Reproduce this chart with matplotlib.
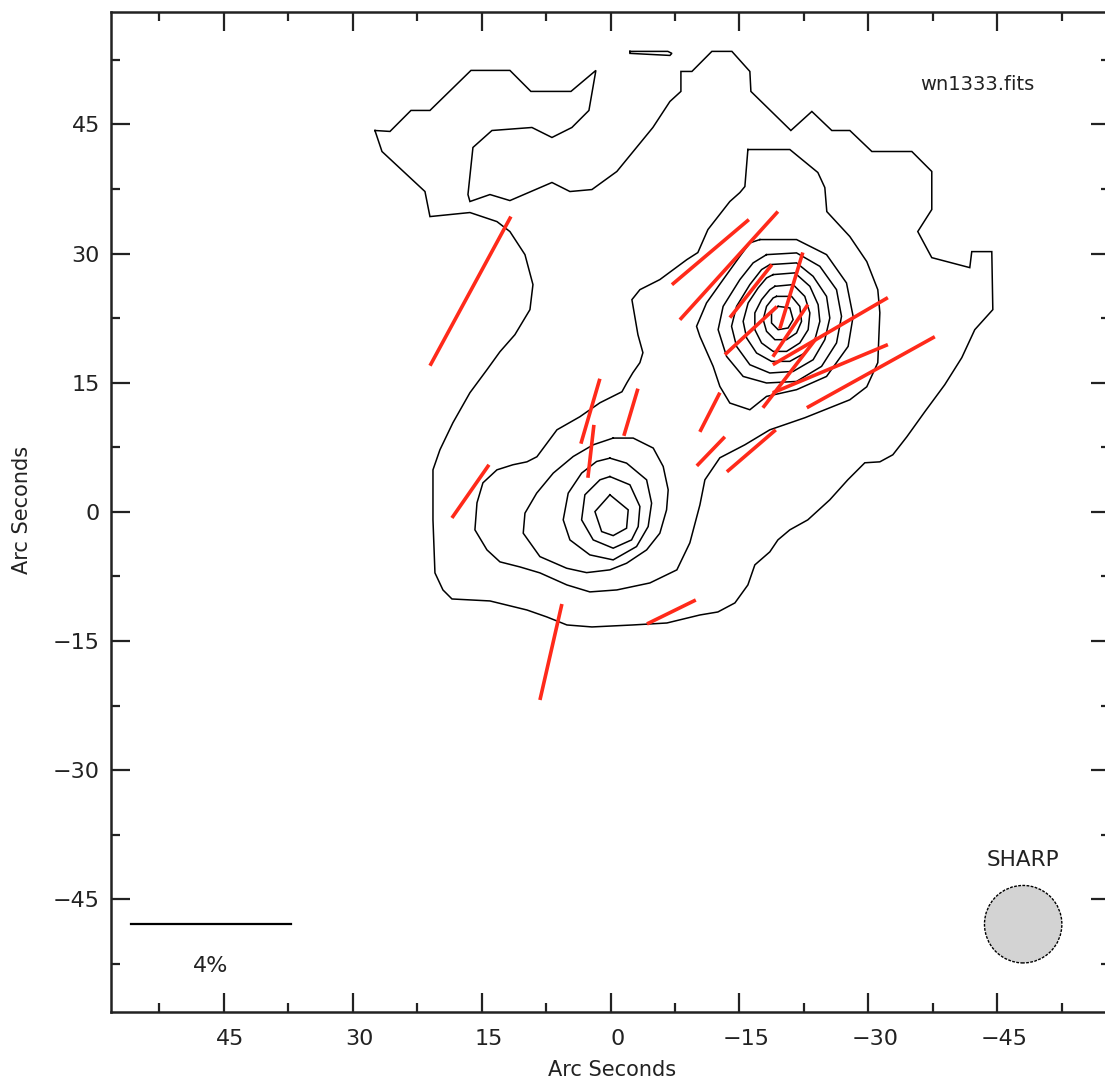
import numpy as np
import matplotlib
matplotlib.use("Agg")
import matplotlib.pyplot as plt
from matplotlib.transforms import ScaledTranslation
from matplotlib.patches import Circle

# ---------------- data (arcsec offsets; x = east offset, y = north offset) ----------
contour_outer = [(27.40,44.30),(25.65,44.19),(23.21,46.63),(21.00,46.63),(16.23,51.28),(11.70,51.28),
    (9.26,48.84),(4.60,48.84),(1.70,51.28),(2.51,46.63),(4.49,44.65),(6.81,43.49),(9.14,44.65),
    (13.79,44.30),(16.00,42.33),(16.58,36.86),(16.35,36.05),(14.02,36.86),(11.70,36.16),(6.81,38.26),
    (4.72,37.21),(2.16,37.44),(-0.74,39.54),(-4.93,44.65),(-6.91,47.67),(-8.19,48.84),(-8.19,51.16),
    (-9.47,51.16),(-11.79,53.49),(-14.12,53.49),(-16.21,51.16),(-16.33,48.84),(-20.98,44.30),
    (-23.42,46.51),(-25.74,44.30),(-27.84,44.30),(-30.40,41.86),(-35.05,41.86),(-37.37,39.54),
    (-37.37,35.12),(-35.74,32.56),(-37.37,29.53),(-41.79,28.37),(-42.02,30.23),(-44.35,30.23),
    (-44.47,23.49),(-42.37,21.16),(-40.86,17.91),(-38.88,14.77),(-36.56,11.63),(-34.47,8.72),
    (-32.84,6.63),(-31.33,5.81),(-29.58,5.70),(-27.60,3.72),(-25.51,1.40),(-22.95,-0.93),
    (-20.86,-2.09),(-19.47,-3.26),(-18.53,-4.65),(-16.79,-6.16),(-15.98,-8.49),(-14.47,-10.58),
    (-12.49,-11.63),(-10.40,-11.98),(-6.56,-12.91),(-2.60,-13.14),(2.16,-13.37),(5.07,-13.14),
    (7.40,-12.21),(9.72,-11.40),(14.02,-10.35),(18.44,-10.12),(19.49,-9.07),(20.42,-7.09),
    (20.65,-0.93),(20.65,4.88),(19.84,7.21),(18.33,10.35),(16.35,13.84),(14.37,16.51),(12.86,18.60),
    (11.12,20.58),(9.37,23.49),(9.02,26.40),(9.95,29.88),(11.70,32.56),(13.21,33.72),(16.35,34.77),
    (21.00,34.30),(21.58,37.21),(26.58,41.86)]

contour_sliver = [(-2.26,53.49),(-6.67,53.49),(-7.14,53.26),(-6.91,53.02),(-4.58,53.14),(-2.26,53.26)]

contour_level2 = [(-15.98,42.09),(-20.86,42.09),(-24.12,39.42),(-24.93,37.67),(-25.16,34.88),
    (-27.84,31.98),(-29.81,29.07),(-31.09,25.81),(-31.33,23.14),(-31.09,17.33),(-29.81,14.53),
    (-27.84,13.02),(-22.60,10.93),(-18.53,9.53),(-15.63,7.79),(-12.72,6.28),(-10.98,3.72),
    (-10.40,0.81),(-9.23,-3.60),(-7.72,-6.74),(-4.58,-8.26),(-0.74,-9.07),(2.40,-9.30),(5.07,-8.49),
    (8.21,-7.09),(10.53,-6.40),(12.86,-5.81),(14.37,-4.42),(15.77,-2.09),(15.53,1.05),(14.84,3.37),
    (13.21,4.88),(11.35,5.47),(9.72,5.81),(8.56,6.40),(6.23,9.53),(3.56,11.05),(1.23,12.67),
    (-1.33,13.95),(-1.91,15.00),(-2.60,16.16),(-3.42,17.33),(-3.77,18.49),(-3.19,20.58),
    (-2.49,24.65),(-3.42,25.81),(-5.74,26.98),(-8.88,29.30),(-10.16,30.12),(-11.33,32.79),
    (-13.88,36.05),(-15.05,37.09),(-15.63,37.79)]

south_l3 = [(-0.31,8.57),(-2.64,8.57),(-4.97,7.41),(-6.13,5.27),(-6.71,2.56),(-6.52,0.23),(-5.74,-2.48),
    (-4.20,-4.42),(-1.87,-5.97),(0.07,-6.74),(2.78,-7.06),(5.10,-6.55),(8.21,-5.20),(10.15,-2.48),
    (9.95,-0.15),(8.59,2.17),(6.66,4.50),(4.34,6.43),(2.01,7.79)]
south_l4 = [(0.07,6.24),(-1.87,5.66),(-4.20,3.72),(-4.78,1.01),(-4.38,-1.71),(-3.03,-4.03),(-0.31,-5.58),
    (2.40,-5.00),(4.72,-3.26),(5.50,-0.93),(4.92,2.17),(3.36,4.50),(1.62,5.85)]
south_l5 = [(0.07,4.10),(-2.26,3.14),(-3.42,0.62),(-3.22,-1.71),(-2.45,-3.26),(-0.31,-4.22),(2.01,-3.26),
    (3.36,-0.93),(2.98,1.98),(1.23,3.72)]
south_l6 = [(0.07,1.98),(-2.06,0.23),(-1.87,-1.90),(-0.31,-2.76),(1.03,-2.29),(1.81,0.03)]

north_l3 = [(-17.37,31.63),(-21.64,31.63),(-25.13,29.88),(-27.45,26.59),(-28.22,22.71),(-27.64,19.22),
    (-25.13,15.73),(-21.64,14.19),(-18.15,13.41),(-16.21,11.86),(-13.88,12.64),(-12.72,14.57),
    (-11.94,16.90),(-10.40,20.38),(-10.01,21.55),(-11.17,24.27),(-13.10,26.98),(-15.05,29.69),
    (-16.21,31.24)]
north_l4 = [(-18.15,29.88),(-21.64,30.08),(-24.35,28.52),(-26.29,25.81),(-26.87,22.71),(-26.29,19.62),
    (-24.55,16.90),(-21.64,15.15),(-18.15,14.97),(-15.43,15.73),(-13.50,18.06),(-12.52,21.16),
    (-13.10,23.87),(-15.05,26.98),(-16.59,28.92)]
north_l5 = [(-18.53,28.72),(-21.64,28.92),(-23.57,27.36),(-25.13,25.03),(-25.51,22.52),(-24.93,20.00),
    (-23.57,17.67),(-21.24,16.31),(-18.53,16.13),(-16.21,17.09),(-14.66,19.22),(-14.08,21.55),
    (-14.66,23.87),(-16.21,26.40),(-17.57,28.14)]
north_l6 = [(-18.92,27.56),(-21.44,27.76),(-23.19,26.20),(-24.15,24.07),(-24.35,22.13),(-23.77,20.00),
    (-22.60,18.45),(-20.86,17.48),(-18.73,17.48),(-16.99,18.45),(-15.83,20.20),(-15.43,22.13),
    (-16.01,24.27),(-17.17,26.01),(-18.15,27.17)]
north_l7 = [(-19.12,26.20),(-21.24,26.40),(-22.60,25.03),(-23.19,23.11),(-22.99,21.16),(-22.02,19.62),
    (-20.48,18.64),(-18.92,18.64),(-17.57,19.62),(-16.79,21.16),(-16.79,23.11),(-17.57,24.65),
    (-18.53,25.81)]
north_l8 = [(-19.31,25.03),(-21.06,25.03),(-22.02,23.87),(-22.22,22.13),(-21.64,20.78),(-20.48,20.00),
    (-19.12,20.00),(-18.15,20.97),(-17.76,22.33),(-18.15,23.87),(-18.92,24.85)]
north_l9 = [(-19.50,23.87),(-20.86,23.69),(-21.24,22.33),(-20.66,21.36),(-19.50,21.16),(-18.73,21.94),
    (-18.73,23.11)]

contours = [contour_outer, contour_sliver, contour_level2,
            south_l3, south_l4, south_l5, south_l6,
            north_l3, north_l4, north_l5, north_l6, north_l7, north_l8, north_l9]

# polarization vectors: centre (arcsec), percentage, position angle (deg E of N)
vec_x  = [16.29, 6.93, -7.08, 16.29, 2.34, 2.28, -2.37, -11.56, -11.67, -16.38,
          -11.62, -13.77, -16.33, -21.03, -16.33, -20.92, -25.57, -25.57, -20.86, -30.28]
vec_y  = [25.64, -16.28, -11.63, 2.38, 11.69, 7.03, 11.57, 11.57, 7.03, 7.09,
          30.17, 28.60, 25.64, 25.70, 21.05, 21.05, 20.99, 16.63, 16.16, 16.22]
vec_p  = [4.24, 2.46, 1.36, 1.62, 1.69, 1.33, 1.23, 1.10, 1.01, 1.61,
          2.52, 3.65, 1.69, 1.99, 1.77, 1.57, 3.33, 3.12, 2.21, 3.66]
vec_pa = [-28.5, -12.9, -63.9, -34.9, -16.3, -6.5, -16.6, -27.1, -44.0, -49.4,
          -49.8, -42.2, -38.4, -16.8, -47.3, -33.9, -59.8, -67.3, -37.6, -61.0]

arcsec_per_percent = 4.65
scalebar_percent = 4
beam_fwhm = 9.0
xlim = (58.1, -58.1)
ylim = (-58.1, 58.1)
major_ticks = [45, 30, 15, 0, -15, -30, -45]

# ---------------- figure ----------------
W, H = 1105, 1084
fig = plt.figure(figsize=(W / 100, H / 100), dpi=100)
ax = fig.add_axes([111 / W, (H - 1012) / H, 999 / W, 1000.3 / H])
ax.set_xlim(*xlim)
ax.set_ylim(*ylim)

for c in contours:
    a = np.array(c + [c[0]])
    ax.plot(a[:, 0], a[:, 1], color='black', lw=1.1, solid_joinstyle='miter')

vx = np.array(vec_x); vy = np.array(vec_y)
L = np.array(vec_p) * arcsec_per_percent
pa = np.deg2rad(vec_pa)
dx = 0.5 * L * np.sin(pa); dy = 0.5 * L * np.cos(pa)
for i in range(len(vx)):
    ax.plot([vx[i] - dx[i], vx[i] + dx[i]], [vy[i] - dy[i], vy[i] + dy[i]],
            color='#ff2a1a', lw=2.6, solid_capstyle='butt')

# scale bar
bar_x0 = 55.8
bar_y = -47.9
ax.plot([bar_x0, bar_x0 - scalebar_percent * arcsec_per_percent], [bar_y, bar_y], color='black', lw=1.6)
ax.text(bar_x0 - scalebar_percent * arcsec_per_percent / 2, -52.8, f"{scalebar_percent}%",
        ha='center', va='center', fontsize=16, color='#222222')

# beam
beam = Circle((-48.0, -47.9), beam_fwhm / 2, facecolor='#d3d3d3', edgecolor='black',
              lw=1.0, linestyle=(0, (2, 1)))
ax.add_patch(beam)
ax.text(-48.0, -40.5, "SHARP", ha='center', va='center', fontsize=15.5, color='#222222')
ax.text(-42.7, 49.7, "wn1333.fits", ha='center', va='center', fontsize=14, color='#222222')

# ticks
ax.set_xticks(major_ticks)
ax.set_yticks(major_ticks)
ax.set_xticks([52.5, 37.5, 22.5, 7.5, -7.5, -22.5, -37.5, -52.5], minor=True)
ax.set_yticks([52.5, 37.5, 22.5, 7.5, -7.5, -22.5, -37.5, -52.5], minor=True)
ax.tick_params(which='both', direction='in', top=True, right=True, width=1.6, color='#222222')
ax.tick_params(which='major', length=13.5, labelsize=16, labelcolor='#222222')
ax.tick_params(which='minor', length=6.5)
ax.tick_params(axis='x', pad=12)
ax.tick_params(axis='y', pad=8)
for sp in ax.spines.values():
    sp.set_linewidth(1.8)
    sp.set_color('#222222')

off = ScaledTranslation(7 / 100, 0, fig.dpi_scale_trans)
for lab in ax.get_xticklabels():
    lab.set_transform(lab.get_transform() + off)

fig.text(612 / W, 1 - 1070 / H, "Arc Seconds", ha='center', va='center', fontsize=15, color='#222222')
fig.text(22 / W, 1 - 510 / H, "Arc Seconds", ha='center', va='center', rotation=90, fontsize=15,
         color='#222222')

fig.savefig("out.png", dpi=100)
